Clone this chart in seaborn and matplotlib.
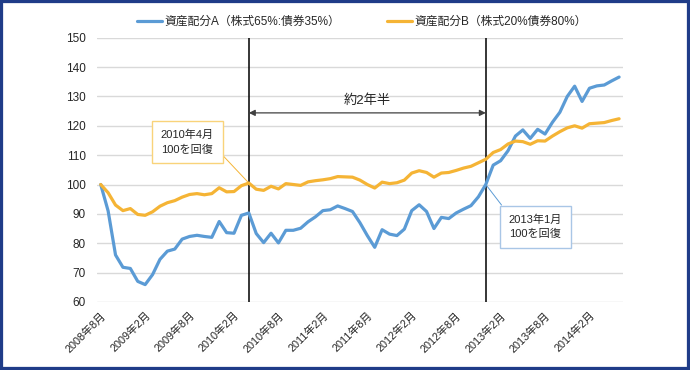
import numpy as np
import pandas as pd
import matplotlib
matplotlib.use('Agg')
import matplotlib.pyplot as plt
from matplotlib.patches import Rectangle
import seaborn as sns

# monthly index values, 2008/8 start = 100
alloc_a = [100, 91, 76, 71.8, 71.4, 67, 65.9, 69.3, 74.5, 77.3,
           78, 81.4, 82.3, 82.7, 82.3, 82, 87.4, 83.6, 83.4, 89.5,
           90.3, 83.3, 80.2, 83.4, 80.1, 84.4, 84.4, 85.1, 87.3, 89,
           91.1, 91.4, 92.7, 91.8, 90.8, 87, 82.6, 78.6, 84.6, 83.1,
           82.6, 84.8, 91.1, 93.1, 90.8, 85, 88.8, 88.4, 90.3, 91.6,
           92.8, 95.8, 100, 106.6, 108.1, 111.5, 116.5, 118.6, 115.7, 118.8,
           117.2, 121.2, 124.6, 130, 133.5, 128.3, 132.8, 133.6, 133.9, 135.3,
           136.6]
alloc_b = [100, 97.2, 93, 91.1, 91.8, 89.8, 89.5, 90.7, 92.6, 93.8,
           94.5, 95.7, 96.6, 96.9, 96.5, 96.9, 98.9, 97.5, 97.6, 99.6,
           100.5, 98.4, 98, 99.4, 98.5, 100.3, 100, 99.7, 100.9, 101.3,
           101.6, 102, 102.7, 102.6, 102.5, 101.5, 100, 98.8, 100.8, 100.3,
           100.6, 101.5, 103.9, 104.7, 104.1, 102.5, 103.9, 104.1, 104.8, 105.6,
           106.2, 107.4, 108.6, 110.9, 111.9, 113.8, 114.8, 114.6, 113.7, 114.9,
           114.8, 116.5, 118, 119.3, 120, 119.2, 120.7, 120.9, 121.1, 121.8,
           122.4]
series_names = ['資産配分A（株式65%:債券35%）', '資産配分B（株式20%債券80%）']
tick_labels = ['2008年8月', '2009年2月', '2009年8月', '2010年2月', '2010年8月',
               '2011年2月', '2011年8月', '2012年2月', '2012年8月', '2013年2月',
               '2013年8月', '2014年2月']
note_b = '2010年4月\n100を回復'
note_a = '2013年1月\n100を回復'
span_text = '約2年半'

blue = '#5B9BD5'
gold = '#F5B435'

sns.set_style('white')
plt.rcParams['font.family'] = ['Liberation Sans', 'Noto Sans CJK JP', 'DejaVu Sans']

n = len(alloc_a)
df = pd.DataFrame({
    'idx': list(range(n)) * 2,
    'value': alloc_a + alloc_b,
    'series': [series_names[0]] * n + [series_names[1]] * n,
})

fig = plt.figure(figsize=(6.9, 3.7), dpi=100)
ax = fig.add_axes([0.1406, 0.184, 0.762, 0.714])

sns.lineplot(data=df, x='idx', y='value', hue='series',
             palette=[blue, gold], linewidth=2.3, ax=ax)

ax.set_xlim(-0.5, n - 0.5)
ax.set_ylim(60, 150)
ax.set_yticks(range(60, 151, 10))
ax.set_xticks(range(0, n, 6))
ax.set_xticklabels(tick_labels, rotation=45, ha='right', rotation_mode='anchor',
                   fontsize=7.8)
ax.tick_params(axis='y', labelsize=8.5, pad=8, length=0)
ax.tick_params(axis='x', pad=6, length=0)
ax.set_xlabel('')
ax.set_ylabel('')
ax.grid(axis='y', color='#D9D9D9', linewidth=1)
for s in ax.spines.values():
    s.set_visible(False)

# recovery points: first month back at 100
a_arr = np.array(alloc_a)
b_arr = np.array(alloc_b)
rec_b = int(np.argmax(b_arr[1:] >= 100)) + 1
rec_a = int(np.argmax(a_arr[1:] >= 100)) + 1
ax.axvline(rec_b, color='black', lw=1.1, zorder=1)
ax.axvline(rec_a, color='black', lw=1.1, zorder=1)

ax.annotate('', xy=(rec_b, 124.4), xytext=(rec_a, 124.4),
            arrowprops=dict(arrowstyle='<|-|>', color='#404040', lw=0.9,
                            mutation_scale=9, shrinkA=0, shrinkB=0))
ax.text((rec_a + rec_b) / 2, 128.6, span_text, ha='center', va='center', fontsize=9.5)

ax.annotate(note_b, xy=(rec_b, b_arr[rec_b]), xytext=(8.1, 114.4),
            ha='left', va='center', fontsize=8, linespacing=1.5,
            bbox=dict(boxstyle='square,pad=0.8', fc='white', ec='#F9D37A', lw=1),
            arrowprops=dict(arrowstyle='-', color=gold, lw=0.7, relpos=(1, 0.35),
                            shrinkA=0, shrinkB=0))
ax.annotate(note_a, xy=(rec_a, a_arr[rec_a]), xytext=(55.1, 85.6),
            ha='left', va='center', fontsize=8, linespacing=1.5,
            bbox=dict(boxstyle='square,pad=0.8', fc='white', ec='#A9C6E6', lw=1),
            arrowprops=dict(arrowstyle='-', color=blue, lw=0.7, relpos=(0, 1),
                            shrinkA=0, shrinkB=0))

handles, labels = ax.get_legend_handles_labels()
ax.legend(handles, labels, ncol=2, loc='center', bbox_to_anchor=(0.504, 1.06),
          frameon=False, fontsize=8.5, handlelength=2.1, handletextpad=0.2,
          columnspacing=4.0)

fig.patches.append(Rectangle((0, 0), 1, 1, transform=fig.transFigure,
                             fill=False, ec='#1F3C88', lw=4.5, zorder=10))

fig.savefig('out.png', dpi=100)
